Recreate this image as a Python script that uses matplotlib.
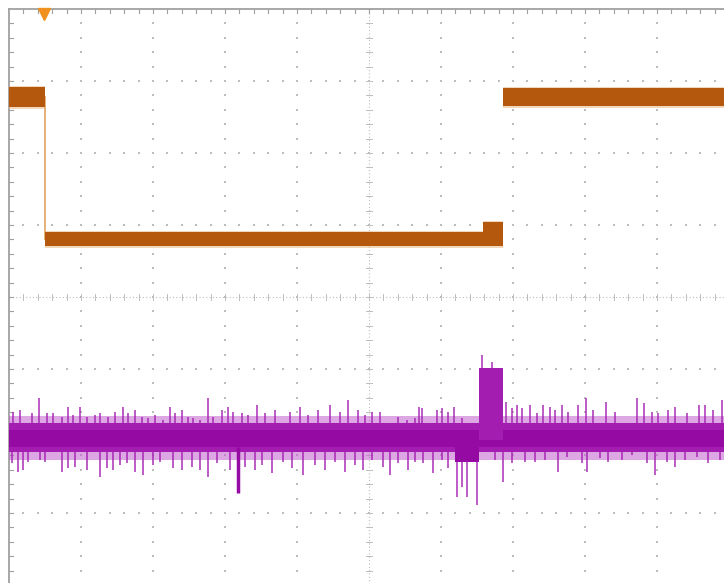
import numpy as np
import matplotlib
matplotlib.use("Agg")
import matplotlib.pyplot as plt

# screen units: 72 per division, 10 x 8 divisions, origin at left / centre line
DIV = 72
X_MAX = 720
Y_HALF = 288

# channel 1 (orange): stepped band segments
ch1_start = [0, 36, 474, 494]
ch1_end = [36, 474, 494, 720]
ch1_top = [210, 65, 75, 209]
ch1_bot = [190, 51, 51, 191]
ch1_edge_x = 36
ch1_edge_y = [200, 58]
trig_x = 35

# channel 2 (purple): baseline band and noise spikes
ch2_band = [-126, -155]
ch2_core = [-133, -150]
ch2_fuzz = [-119, -163]

up_x = [4, 11, 23, 30, 38, 44, 53, 59, 64, 71, 78, 86, 91, 99, 106, 114, 119, 126,
        133, 139, 146, 154, 161, 166, 173, 179, 184, 191, 199, 204, 213, 219, 224,
        233, 239, 248, 256, 266, 281, 291, 299, 309, 321, 331, 339, 349, 356, 363,
        371, 389, 398, 406, 410, 413, 428, 433, 439, 445, 453, 473, 483,
        497, 503, 508, 513, 521, 528, 534, 541, 546, 553, 559, 569,
        577, 584, 597, 606, 628, 635, 643, 649, 659, 666, 678, 690, 696, 704, 713]
up_y = [-115, -113, -116, -101, -116, -116, -120, -110, -118, -110, -120, -118, -116,
        -120, -115, -110, -116, -113, -120, -121, -118, -123, -110, -116, -113, -120,
        -121, -123, -101, -120, -113, -110, -115, -116, -118, -108, -116, -113, -115,
        -110, -118, -113, -108, -115, -103, -113, -118, -115,
        -115, -120, -123, -121, -110, -111, -113, -111, -115, -110, -121, -58, -65,
        -105, -111, -108, -111, -108, -116, -108, -110, -113, -108, -115, -108,
        -101, -113, -105, -115, -101, -106, -115, -116, -113, -110, -116, -108, -108,
        -113, -103]

down_x = [3, 9, 14, 19, 31, 36, 53, 59, 66, 78, 91, 98, 104, 111, 118, 126, 134, 144,
          151, 164, 173, 183, 191, 199, 208, 221, 229, 236,
          246, 253, 263, 274, 283, 294, 306, 316, 326, 336, 346, 354, 363,
          374, 381, 389, 399, 406, 414, 424, 433, 439, 448, 453, 458, 468, 486, 494,
          503, 516, 526, 536, 549, 558, 573, 578, 591, 599, 613, 623, 638, 646, 658,
          666, 676, 688, 699, 711]
down_y = [-166, -175, -173, -165, -163, -165, -175, -171, -170, -173, -180, -171, -173,
          -168, -166, -175, -178, -168, -165, -171, -173, -170, -173, -180, -166, -173,
          -196, -170,
          -173, -168, -176, -165, -171, -178, -168, -173, -165, -175, -168, -173, -163,
          -170, -178, -166, -173, -165, -166, -176, -163, -171, -200, -190, -200, -208,
          -163, -185,
          -166, -165, -165, -163, -175, -160, -166, -175, -161, -165, -163, -158, -166,
          -178, -165, -170, -163, -160, -166, -163]

pulse_x = [470, 494]
pulse_y = [-71, -143]
dip_x = [446, 470]
dip_y = [-136, -165]

ORANGE = "#b4580e"
ORANGE_LIGHT = "#e8b07a"
PURPLE = "#a31eb0"
PURPLE_DARK = "#940aa3"
GRID = "#bdbdbd"

fig = plt.figure(figsize=(7.24, 5.83), dpi=100)
ax = fig.add_axes([9 / 724, -2 / 583, 720 / 724, 576 / 583])
ax.set_xlim(0, X_MAX)
ax.set_ylim(-Y_HALF, Y_HALF)
ax.set_xticks([])
ax.set_yticks([])
for side in ["right", "bottom"]:
    ax.spines[side].set_visible(False)
for side in ["left", "top"]:
    ax.spines[side].set_color("#a0a0a0")
    ax.spines[side].set_linewidth(1.3)

# graticule dots
minor = DIV / 5
for k in range(1, 10):
    if k == 5:
        continue
    ys = np.arange(-Y_HALF, Y_HALF + 1, minor)
    ax.scatter(np.full(len(ys), k * DIV), ys, s=1.5, marker="s", color=GRID, lw=0, zorder=1)
for k in range(-3, 4):
    if k == 0:
        continue
    xs = np.arange(0, X_MAX + 1, minor)
    ax.scatter(xs, np.full(len(xs), k * DIV), s=1.5, marker="s", color=GRID, lw=0, zorder=1)

# centre lines with ticks
ax.axvline(X_MAX / 2, color=GRID, lw=0.8, ls=(0, (1, 2)), zorder=1)
ax.axhline(0, color=GRID, lw=0.8, ls=(0, (1, 2)), zorder=1)
for v in np.arange(0, X_MAX + 1, minor):
    ax.plot([v, v], [-3, 3], color=GRID, lw=0.7, zorder=1)
for v in np.arange(-Y_HALF, Y_HALF + 1, minor):
    ax.plot([X_MAX / 2 - 3, X_MAX / 2 + 3], [v, v], color=GRID, lw=0.7, zorder=1)

# border ticks
for v in np.arange(minor, X_MAX + 1, minor):
    ax.plot([v, v], [Y_HALF, Y_HALF - 4], color="#a0a0a0", lw=0.8, zorder=1)
for v in np.arange(-Y_HALF, Y_HALF, minor):
    ax.plot([0, 4], [v, v], color="#a0a0a0", lw=0.8, zorder=1)

# channel 1
ax.plot([ch1_edge_x, ch1_edge_x], ch1_edge_y, color=ORANGE_LIGHT, lw=1.4, zorder=2)
for s, e, t, b in zip(ch1_start, ch1_end, ch1_top, ch1_bot):
    ax.fill_between([s, e], [b - 1.5, b - 1.5], [t + 1.5, t + 1.5], color=ORANGE_LIGHT, alpha=0.5, lw=0, zorder=3)
    ax.fill_between([s, e], [b, b], [t, t], color=ORANGE, lw=0, zorder=4)
ax.plot([trig_x], [Y_HALF - 5], marker="v", ms=8, color="#f0901e", clip_on=False, zorder=6)

# channel 2
ax.fill_between([0, X_MAX], [ch2_fuzz[1]] * 2, [ch2_fuzz[0]] * 2, color="#c060cc", alpha=0.55, lw=0, zorder=3)
ax.vlines(up_x, ch2_band[0], up_y, color=PURPLE, lw=1.2, alpha=0.85, zorder=3)
ax.vlines(down_x, down_y, ch2_band[1], color=PURPLE, lw=1.2, alpha=0.85, zorder=3)
ax.fill_between([0, X_MAX], [ch2_band[1]] * 2, [ch2_band[0]] * 2, color=PURPLE, lw=0, zorder=4)
ax.fill_between([0, X_MAX], [ch2_core[1]] * 2, [ch2_core[0]] * 2, color=PURPLE_DARK, lw=0, zorder=4)
ax.fill_between(pulse_x, [pulse_y[1]] * 2, [pulse_y[0]] * 2, color=PURPLE, lw=0, zorder=4)
ax.fill_between(dip_x, [dip_y[1]] * 2, [dip_y[0]] * 2, color=PURPLE_DARK, lw=0, zorder=4)
ax.vlines([229], -196, -150, color=PURPLE_DARK, lw=2.5, zorder=4)

fig.savefig("out.png", dpi=100)
